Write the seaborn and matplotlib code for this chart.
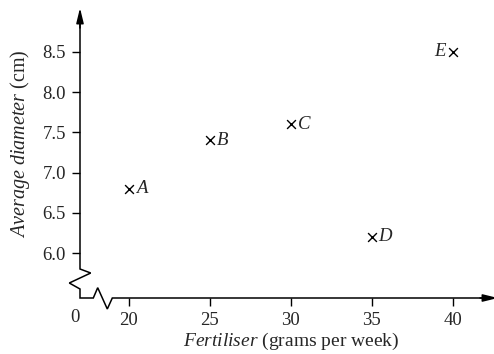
import numpy as np
import pandas as pd
import matplotlib
matplotlib.use("Agg")
import matplotlib.pyplot as plt
import seaborn as sns

# data
points      = ["A", "B", "C", "D", "E"]
fertiliser  = [20, 25, 30, 35, 40]
diameter    = [6.8, 7.4, 7.6, 6.2, 8.5]
label_side  = ["right", "right", "right", "right", "left"]
x_ticks     = [20, 25, 30, 35, 40]
y_ticks     = [6.0, 6.5, 7.0, 7.5, 8.0, 8.5]

df = pd.DataFrame({"point": points, "fertiliser": fertiliser, "diameter": diameter})

sns.set_style("white")
plt.rcParams["font.family"] = ["Liberation Serif", "DejaVu Serif"]
plt.rcParams["mathtext.fontset"] = "custom"
plt.rcParams["mathtext.rm"] = "Liberation Serif"
plt.rcParams["mathtext.it"] = "Liberation Serif:italic"

FS = 13.5
W, H = 494, 354
fig = plt.figure(figsize=(W / 100, H / 100), dpi=100)
# axes box in pixels: origin (80, 298), width 418, height 290
ox, oy, aw, ah = 80, 298, 418, 290
ax = fig.add_axes([ox / W, (H - oy) / H, aw / W, ah / H])

sns.scatterplot(data=df, x="fertiliser", y="diameter", marker="x", s=40,
                color="black", linewidth=1.0, ax=ax, legend=False)

for p, xv, yv, side in zip(points, fertiliser, diameter, label_side):
    dx = 5 if side == "right" else -5
    ax.annotate(p, (xv, yv), xytext=(dx, 0), textcoords="offset points",
                ha="left" if side == "right" else "right", va="center",
                fontsize=FS, style="italic")

ax.set_xlim(17.0, 17.0 + aw / 16.2)
ax.set_ylim(6.0 - (oy - 253) / 80.4, 6.0 - (oy - 253) / 80.4 + ah / 80.4)
ax.set_xticks(x_ticks)
ax.set_yticks(y_ticks)
ax.set_yticklabels([f"{v:.1f}" for v in y_ticks])
ax.tick_params(axis="both", direction="out", length=6, width=1, color="black",
               labelsize=FS, pad=4, bottom=True, left=True)
for s in ax.spines.values():
    s.set_visible(False)

# axes with zigzag breaks (pixels relative to origin)
px = [0, 0, 10.7, -10.7, 0, 0, 13.3, 17.7, 27.3, 32.3, 412]
py = [282, 29, 25, 15, 9, 0, 0, 10.3, -11, 0, 0]
ax.plot(np.array(px) / aw, np.array(py) / ah, color="black", lw=1.1,
        transform=ax.transAxes, clip_on=False, solid_joinstyle="miter")
ax.annotate("", xy=(0, 1.0), xytext=(0, 270 / ah), xycoords="axes fraction",
            arrowprops=dict(arrowstyle="-|>,head_length=0.9,head_width=0.22",
                            color="black", lw=1.1, shrinkA=0, shrinkB=0))
ax.annotate("", xy=(1.0, 0), xytext=(400 / aw, 0), xycoords="axes fraction",
            arrowprops=dict(arrowstyle="-|>,head_length=0.9,head_width=0.22",
                            color="black", lw=1.1, shrinkA=0, shrinkB=0))

fig.text(75 / W, 1 - 318 / H, "0", ha="center", va="center", fontsize=FS)
fig.text(291 / W, 1 - 352 / H, r"$\it{Fertiliser}$ (grams per week)",
         ha="center", va="bottom", fontsize=14)
fig.text(20 / W, 1 - 144 / H, r"$\it{Average\ diameter}$ (cm)",
         ha="center", va="center", rotation=90, fontsize=14.5)
ax.set_xlabel("")
ax.set_ylabel("")

fig.savefig("out.png", dpi=100)
